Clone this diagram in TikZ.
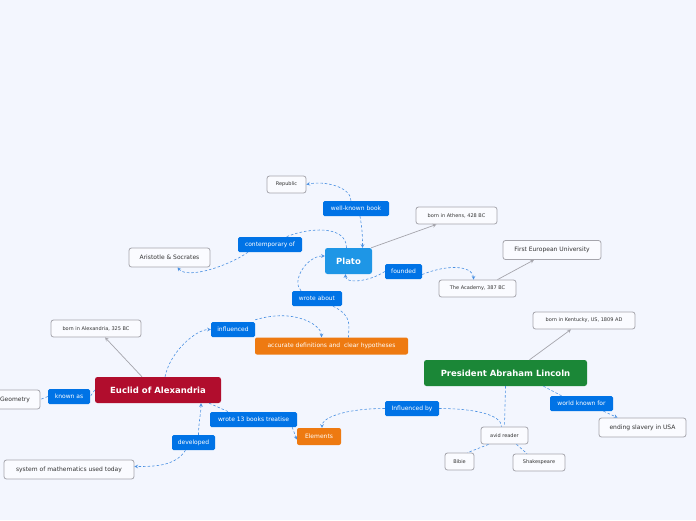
\documentclass[tikz,border=0pt]{standalone}
\usepackage{xcolor}
\usepackage{fontspec}
\setmainfont{DejaVu Sans}
\usepackage{tikz}
\usetikzlibrary{positioning,shapes,arrows,calc}
\definecolor{bgColor}{RGB}{243, 246, 254}
\definecolor{lblBlue}{RGB}{0, 115, 230}
\definecolor{platoBlue}{RGB}{30, 150, 230}
\definecolor{euclidRed}{RGB}{177, 13, 45}
\definecolor{lincolnGreen}{RGB}{27, 135, 55}
\definecolor{topicOrange}{RGB}{238, 122, 17}
\definecolor{relBlue}{RGB}{74, 144, 226}
\definecolor{boxLine}{RGB}{165, 165, 172}
\definecolor{textColor}{RGB}{51, 51, 51}

\tikzset{
  leaf/.style={draw=boxLine, line width=0.8pt, fill=white!60!bgColor, rounded corners=2.5pt, text=textColor, inner sep=1pt, align=center, minimum height=17pt, font=\fontsize{5}{6}\selectfont},
  bigleaf/.style={leaf, minimum height=19pt, font=\fontsize{6}{7}\selectfont},
  lbl/.style={fill=lblBlue, rounded corners=1.5pt, text=white, inner sep=1pt, minimum height=15pt, font=\fontsize{6}{7}\selectfont},
  sub/.style={fill=topicOrange, rounded corners=2pt, text=white, inner sep=1pt, minimum height=17pt, font=\fontsize{6}{7}\selectfont},
  mainbox/.style={rounded corners=2.5pt, text=white, inner sep=1pt, minimum height=26pt, font=\bfseries\fontsize{8.5}{10}\selectfont},
  rel/.style={draw=relBlue, dashed, dash pattern=on 2.5pt off 2pt, line width=0.6pt},
  tip/.style={-stealth},
  link/.style={draw=boxLine, line width=0.7pt, -stealth}
}

\begin{document}
\begin{tikzpicture}[x=1pt,y=-1pt]
  \fill[bgColor] (0,0) rectangle (696,520);
  \useasboundingbox (0,0) rectangle (696,520);

  % central topics
  \node[mainbox, fill=platoBlue, minimum width=47pt] (plato) at (348.5,261) {Plato};
  \node[mainbox, fill=euclidRed, minimum width=126pt] (euclid) at (158,390) {Euclid of Alexandria};
  \node[mainbox, fill=lincolnGreen, minimum width=163pt] (lincoln) at (505.5,373) {President Abraham Lincoln};

  % Plato side
  \node[leaf, minimum width=39pt] (republic) at (286.5,184.5) {Republic};
  \node[leaf, minimum width=81pt] (athens) at (456.5,215.5) {born in Athens, 428 BC};
  \node[bigleaf, minimum width=81pt] (aristo) at (169.5,257.5) {Aristotle \& Socrates};
  \node[bigleaf, minimum width=98pt] (feu) at (552,250) {First European University};
  \node[leaf, minimum width=77pt] (academy) at (477.5,288.5) {The Academy, 387 BC};
  \node[sub, minimum width=153pt] (accdef) at (331.5,346) {accurate definitions and \ clear hypotheses};

  \node[lbl, minimum width=66pt] (wkbook) at (356,208.5) {well-known book};
  \node[lbl, minimum width=64pt] (contemp) at (270,244.5) {contemporary of};
  \node[lbl, minimum width=37pt] (founded) at (403.5,271.5) {founded};
  \node[lbl, minimum width=50pt] (wrote) at (317,298.5) {wrote about};

  % Euclid side
  \node[leaf, minimum width=90pt] (alexborn) at (96,328.5) {born in Alexandria, 325 BC};
  \node[bigleaf, minimum width=50pt] (geometry) at (15,399.5) {Geometry};
  \node[bigleaf, minimum width=130pt] (system) at (69,469.5) {system of mathematics used today};
  \node[sub, minimum width=44pt] (elements) at (319,436.5) {Elements};

  \node[lbl, minimum width=44pt] (infl) at (233,329.5) {influenced};
  \node[lbl, minimum width=42pt] (knownas) at (69,396.5) {known as};
  \node[lbl, minimum width=87pt] (thirteen) at (253.5,419.5) {wrote 13 books treatise};
  \node[lbl, minimum width=43pt] (developed) at (193.5,442.5) {developed};

  % Lincoln side
  \node[leaf, minimum width=102pt] (kentucky) at (584,320.5) {born in Kentucky, US, 1809 AD};
  \node[bigleaf, minimum width=87pt] (slavery) at (642.5,427.5) {ending slavery in USA};
  \node[leaf, minimum width=47pt] (reader) at (504.5,435.5) {avid reader};
  \node[leaf, minimum width=29pt] (bible) at (459.5,461.5) {Bibie};
  \node[leaf, minimum width=52pt] (shakes) at (539,462.5) {Shakespeare};

  \node[lbl, minimum width=63pt] (worldkn) at (581.5,403.5) {world known for};
  \node[lbl, minimum width=54pt] (inflby) at (412,408.5) {Influenced by};

  % solid links
  \draw[link] ([xshift=-1pt]plato.north east) -- ([xshift=-20pt]athens.south);
  \draw[link] ([xshift=20pt]academy.north) -- ([xshift=-18pt]feu.south);
  \draw[link] ([xshift=-16pt]euclid.north) -- ([xshift=9pt]alexborn.south);
  \draw[link] ([xshift=24pt]lincoln.north) -- ([xshift=-13pt]kentucky.south);

  % relationships around Plato
  \draw[rel, tip] ([xshift=4pt]wkbook.south) .. controls +(2,12) and +(0,-14) .. ([xshift=14pt]plato.north);
  \draw[rel, tip] ([xshift=-5pt]wkbook.north) .. controls +(0,-14) and +(18,-4) .. (republic.east);
  \draw[rel] ([xshift=-2pt]plato.north) .. controls +(0,-22) and +(25,-10) .. ([xshift=-16pt]contemp.north east);
  \draw[rel, tip] ([xshift=-22pt]contemp.south) .. controls +(-20,14) and +(10,12) .. ([xshift=8pt]aristo.south);
  \draw[rel, tip] (founded.west) .. controls +(-15,10) and +(0,10) .. ([xshift=-3pt]plato.south);
  \draw[rel, tip] ([yshift=-3pt]founded.east) .. controls +(30,-12) and +(0,-12) .. ([xshift=-4pt]academy.north);
  \draw[rel, tip] ([xshift=-16pt]wrote.north) .. controls +(-10,-10) and +(-18,0) .. ([yshift=5pt]plato.west);
  \draw[rel] ([xshift=16pt]wrote.south) .. controls +(20,10) and +(0,-12) .. ([xshift=17pt]accdef.north);

  % relationships around Euclid
  \draw[rel, tip] ([xshift=7pt]euclid.north) .. controls +(5,-25) and +(-15,0) .. (infl.west);
  \draw[rel, tip] ([yshift=2pt]infl.north east) .. controls +(40,-12) and +(0,-12) .. ([xshift=-10pt]accdef.north);
  \draw[rel] (euclid.west) -- (knownas.east);
  \draw[rel] (knownas.west) -- (geometry.east);
  \draw[rel] ([xshift=-12pt]euclid.south east) -- ([xshift=-25pt]thirteen.north);
  \draw[rel, tip] ([xshift=-5pt]thirteen.south east) -- ([yshift=-3pt]elements.west);
  \draw[rel, tip] ([xshift=5pt]developed.north) .. controls +(0,-12) and +(0,10) .. ([xshift=43pt]euclid.south);
  \draw[rel, tip] ([xshift=-8pt]developed.south) .. controls +(-10,16) and +(20,0) .. ([yshift=3pt]system.east);

  % relationships around Lincoln
  \draw[rel] (lincoln.south) -- (reader.north);
  \draw[rel] ([xshift=-16pt]reader.south) -- ([xshift=8pt]bible.north);
  \draw[rel] ([xshift=12pt]reader.south) -- ([xshift=-12pt]shakes.north);
  \draw[rel] (inflby.east) .. controls +(35,0) and +(0,-12) .. ([xshift=-3pt]reader.north);
  \draw[rel, tip] (inflby.west) .. controls +(-40,0) and +(0,-10) .. ([xshift=3pt]elements.north);
  \draw[rel] ([xshift=38pt]lincoln.south) -- ([xshift=-20pt]worldkn.north);
  \draw[rel, tip] ([xshift=22pt]worldkn.south) -- ([xshift=-25pt]slavery.north);
\end{tikzpicture}
\end{document}
